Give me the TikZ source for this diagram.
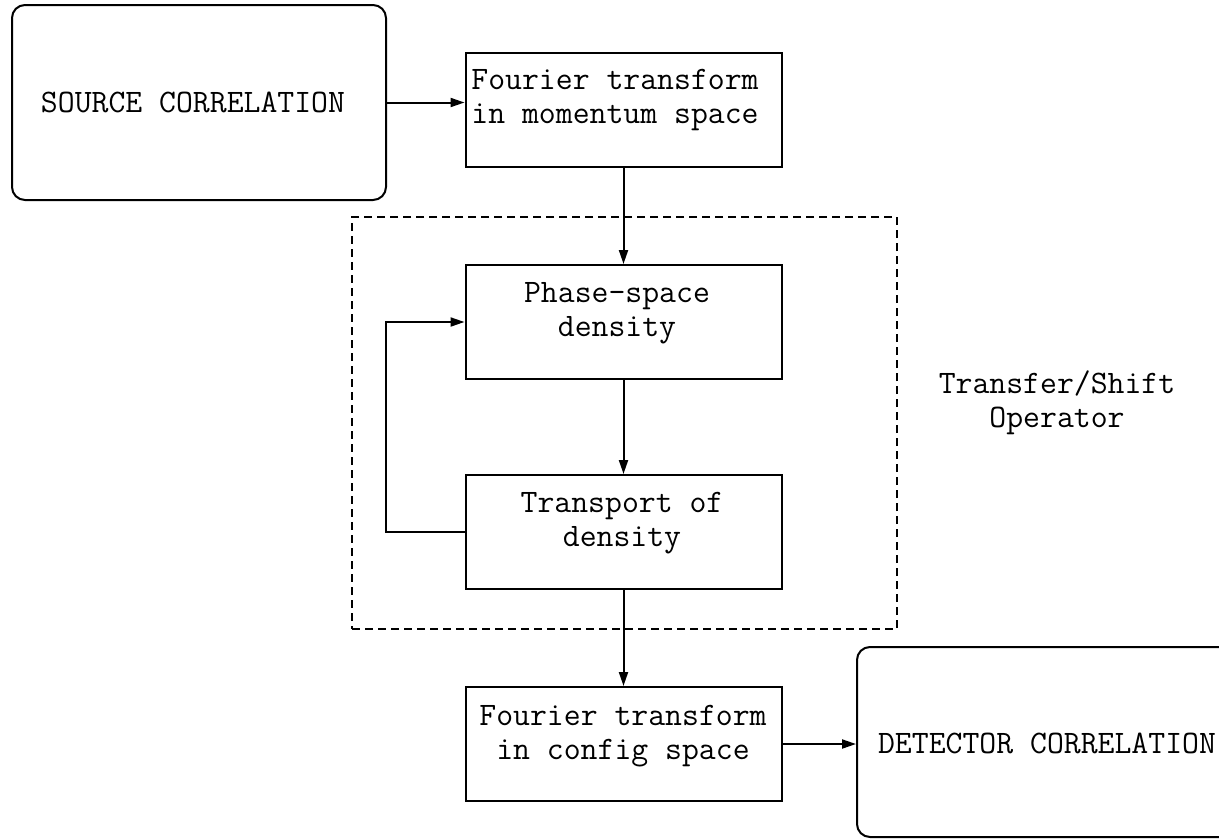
\documentclass[tikz,border=0pt]{standalone}
\usepackage{fontspec}
\usetikzlibrary{arrows.meta}
\begin{document}
\begin{tikzpicture}[x=1pt,y=-1pt,
  every node/.style={font=\ttfamily\fontsize{32.8}{34.5}\selectfont},
  box/.style={draw,line width=2pt,inner sep=0pt,minimum width=316pt,minimum height=114pt},
  rbox/.style={draw,line width=2pt,inner sep=0pt,rounded corners=13pt},
  dbox/.style={draw,line width=1.6pt,dash pattern=on 8pt off 5pt,inner sep=0pt},
  txt/.style={align=center,inner sep=0pt},
  arr/.style={line width=2pt,-{Triangle[length=14pt,width=9pt]}}]
\useasboundingbox (0,0) rectangle (1219,839);
\clip (0,0) rectangle (1219,839);
\fill[white] (0,0) rectangle (1219,839);
% boxes
\node[rbox,minimum width=374pt,minimum height=195pt] (src) at (199,102.5) {};
\node[txt] (srct) at (193,102) {SOURCE CORRELATION};
\node[box] (ft1) at (623.5,110) {};
\node[txt,align=left] (ft1t) at (615,100) {Fourier transform\\in momentum space};
\node[dbox,minimum width=545pt,minimum height=412pt] (op) at (624.5,423) {};
\node[box] (ps) at (623.5,322) {};
\node[txt] (pst) at (617,313) {Phase-space\\density};
\node[box] (tr) at (623.5,532) {};
\node[txt] (trt) at (622,523) {Transport of\\density};
\node[box] (ft2) at (623.5,744) {};
\node[txt] (ft2t) at (623,736) {Fourier transform\\in config space};
\node[rbox,minimum width=420pt,minimum height=190pt] (det) at (1067,742) {};
\node[txt] (dett) at (1047,743) {DETECTOR CORRELATION};
\node[txt] (opl) at (1057,403) {Transfer/Shift\\Operator};
% connectors
\draw[arr] (src.east) -- (src.east -| ft1.west);
\draw[arr] (ft1.south) -- (ps.north);
\draw[arr] (ps.south) -- (tr.north);
\draw[arr] (tr.south) -- (ft2.north);
\draw[arr] (tr.west) -- ++(-79,0) |- (ps.west);
\draw[arr] (ft2.east) -- (ft2.east -| det.west);
\end{tikzpicture}
\end{document}
